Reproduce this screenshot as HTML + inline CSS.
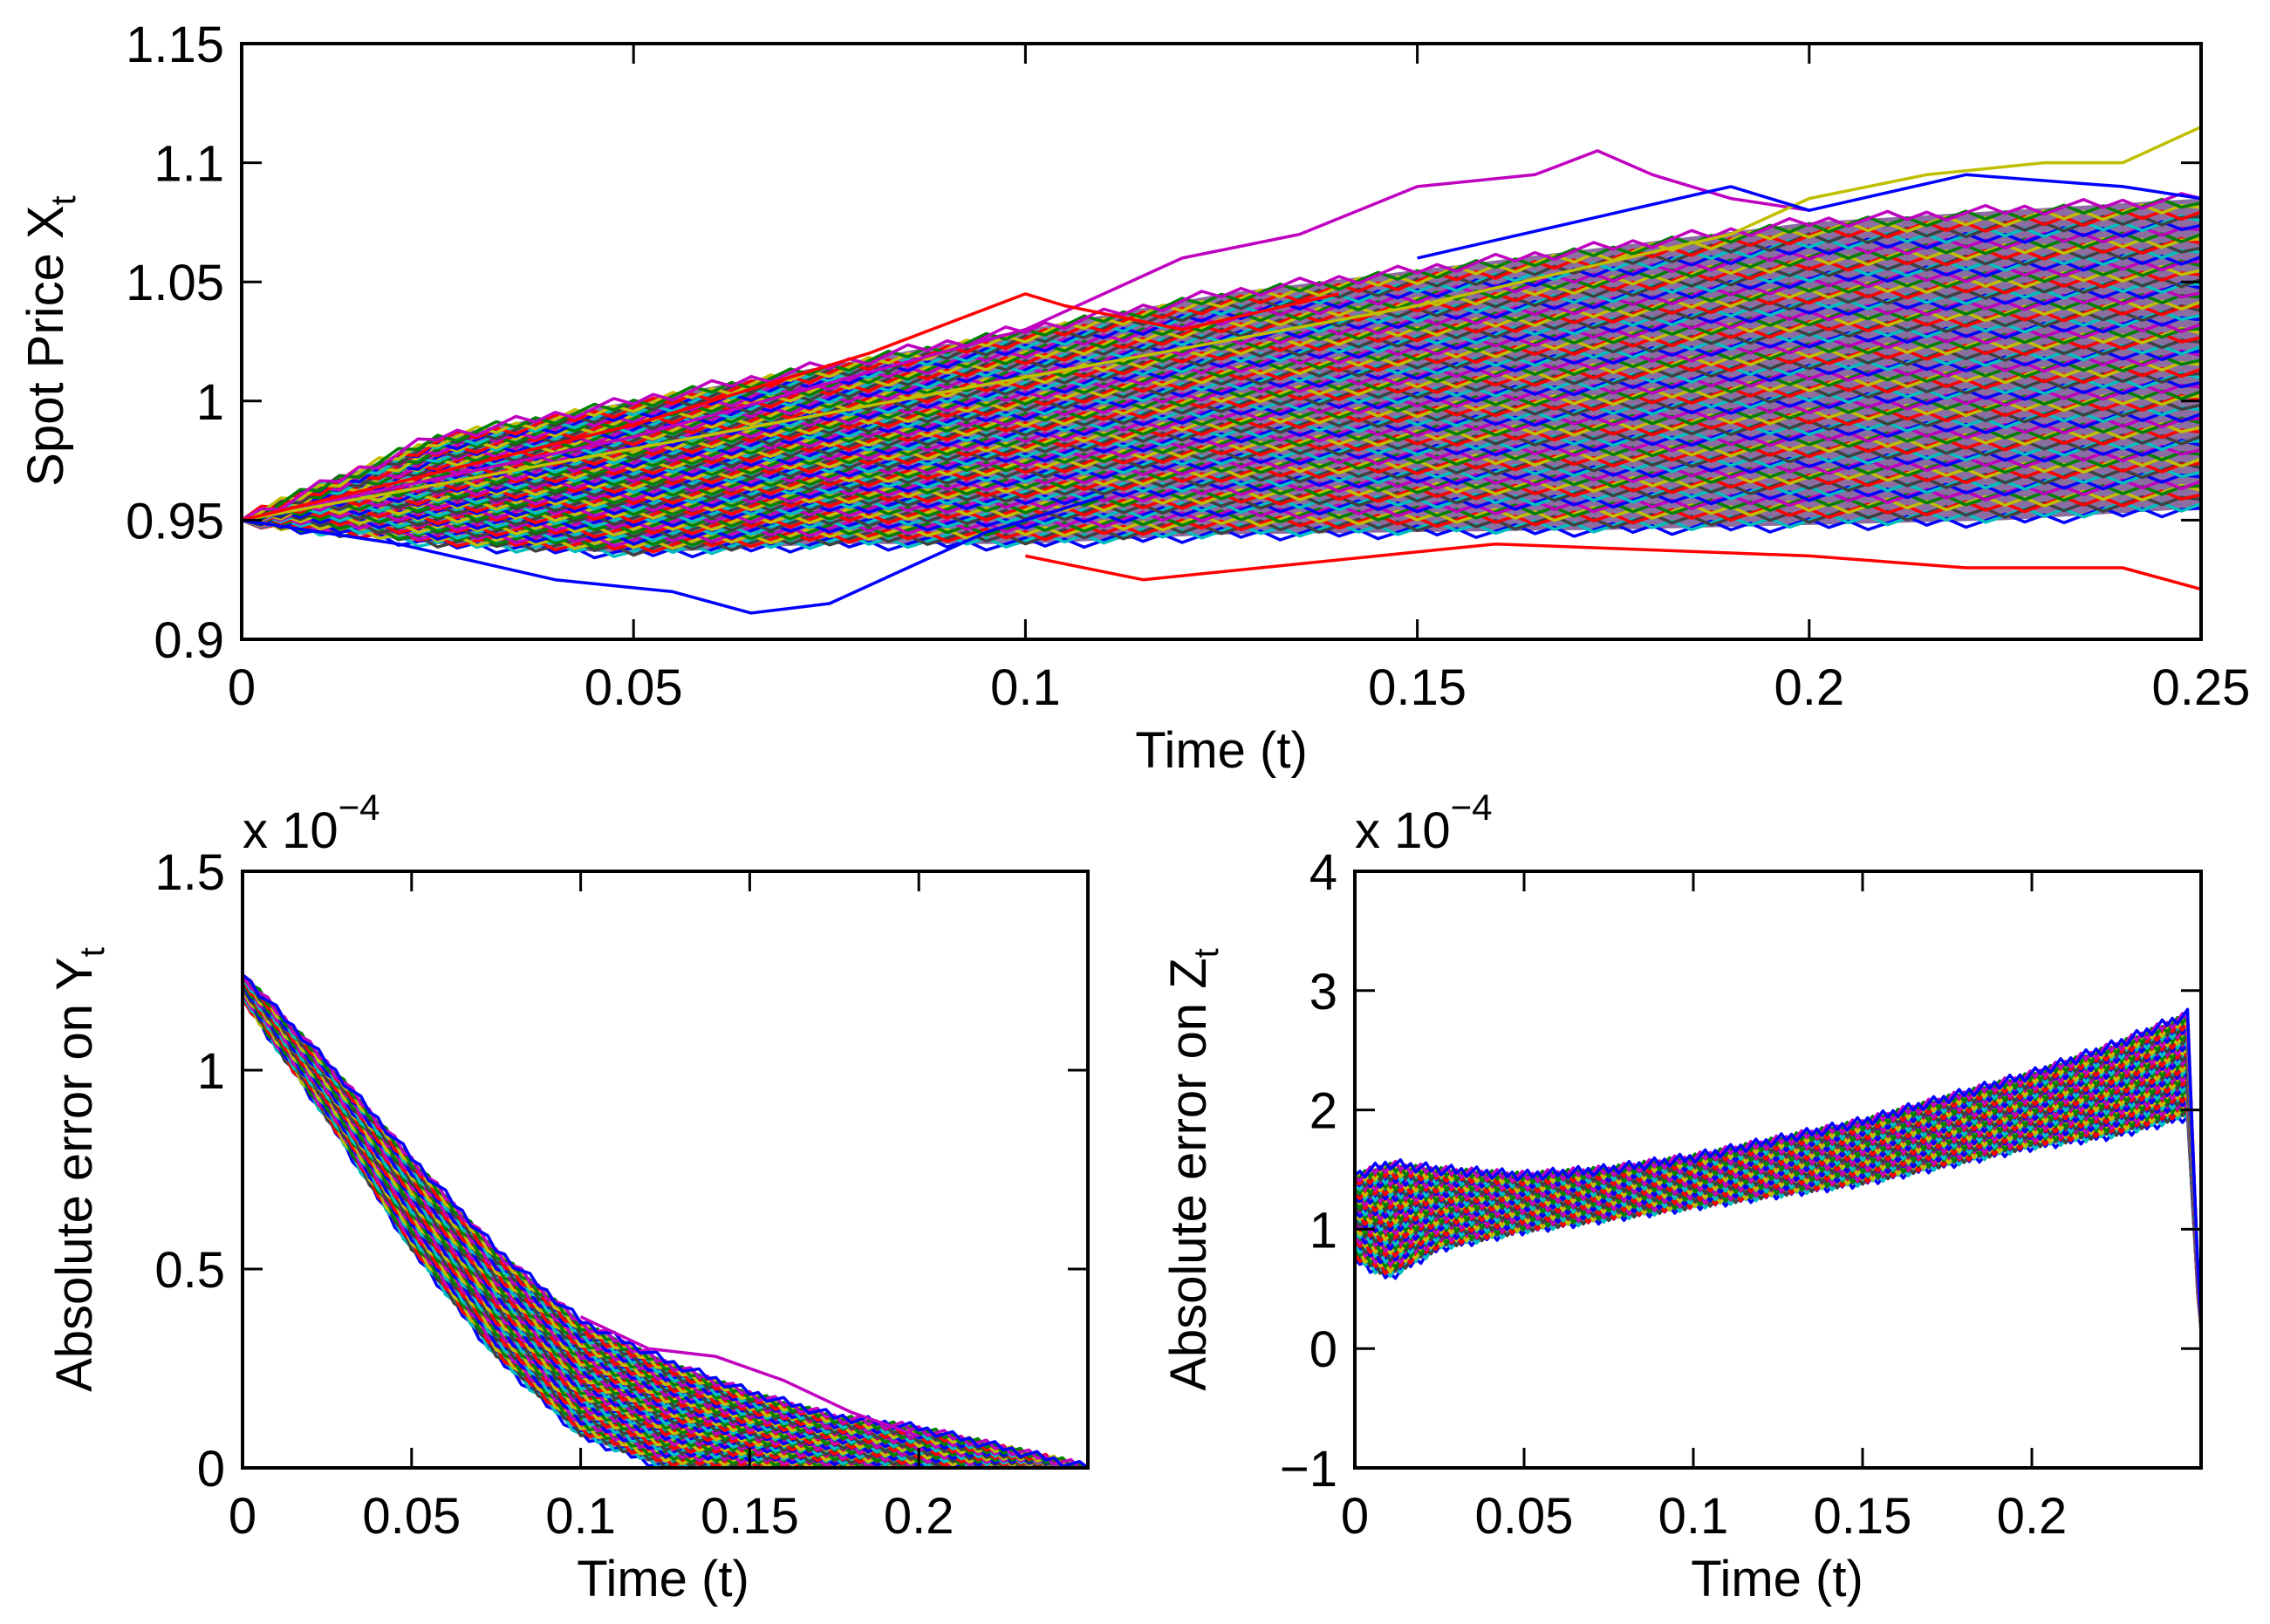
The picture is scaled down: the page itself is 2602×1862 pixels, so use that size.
<!DOCTYPE html>
<html><head><meta charset="utf-8">
<style>
html,body{margin:0;padding:0;background:#fff;}
svg{display:block;font-family:"Liberation Sans",Arial,sans-serif;}
</style></head>
<body>
<svg id="fig" width="2602" height="1862" viewBox="0 0 2602 1862" xmlns="http://www.w3.org/2000/svg">
<rect x="0" y="0" width="2602" height="1862" fill="#fff"/>
</svg>
<script>
// ---------- DATA ----------
const colorCycle = ["#0000ff","#008000","#ff0000","#00bfbf","#bf00bf","#bfbf00","#404040"];

// Top panel: spot price
const topTimes = [0,0.025,0.05,0.075,0.1,0.125,0.15,0.175,0.2,0.225,0.25];
const topBandUpper = [0.95,0.985,1.0,1.015,1.03,1.045,1.055,1.065,1.075,1.08,1.085];
const topBandLower = [0.95,0.94,0.936,0.94,0.94,0.944,0.945,0.946,0.948,0.95,0.955];
const topOutlierMagentaT = [0,0.05,0.1,0.12,0.135,0.15,0.165,0.173,0.18,0.19,0.2];
const topOutlierMagentaV = [0.95,0.985,1.03,1.06,1.07,1.09,1.095,1.105,1.095,1.085,1.08];
const topOutlierYellowT = [0,0.1,0.15,0.19,0.2,0.215,0.23,0.24,0.25];
const topOutlierYellowV = [0.95,1.01,1.04,1.07,1.085,1.095,1.1,1.1,1.115];
const topOutlierBlueLowT = [0,0.02,0.04,0.055,0.065,0.075,0.085,0.095,0.11];
const topOutlierBlueLowV = [0.95,0.94,0.925,0.92,0.911,0.915,0.93,0.945,0.96];
const topOutlierRedLowT = [0.1,0.115,0.13,0.16,0.2,0.22,0.24,0.25];
const topOutlierRedLowV = [0.935,0.925,0.93,0.94,0.935,0.93,0.93,0.921];
const topOutlierRedHighT = [0,0.05,0.08,0.1,0.105,0.12,0.14];
const topOutlierRedHighV = [0.95,0.99,1.02,1.045,1.04,1.03,1.045];
const topOutlierBlueHighT = [0.15,0.17,0.19,0.2,0.22,0.24,0.25];
const topOutlierBlueHighV = [1.06,1.075,1.09,1.08,1.095,1.09,1.085];
const topXTicks = [0,0.05,0.1,0.15,0.2,0.25];
const topXTickLabels = ["0","0.05","0.1","0.15","0.2","0.25"];
const topYTicks = [0.9,0.95,1,1.05,1.1,1.15];
const topYTickLabels = ["0.9","0.95","1","1.05","1.1","1.15"];

// Bottom-left: absolute error on Y (x 1e-4)
const yErrTimes = [0,0.025,0.05,0.075,0.1,0.125,0.15,0.175,0.2,0.225,0.25];
const yErrUpper = [1.24,1.02,0.78,0.55,0.37,0.27,0.19,0.13,0.1,0.05,0];
const yErrLower = [1.18,0.88,0.55,0.28,0.08,0,0,0,0,0,0];
const yErrOutlierT = [0.1,0.12,0.14,0.16,0.18,0.2];
const yErrOutlierV = [0.38,0.3,0.28,0.22,0.14,0.08];
const yErrXTicks = [0,0.05,0.1,0.15,0.2];
const yErrXTickLabels = ["0","0.05","0.1","0.15","0.2"];
const yErrYTicks = [0,0.5,1,1.5];
const yErrYTickLabels = ["0","0.5","1","1.5"];

// Bottom-right: absolute error on Z (x 1e-4)
const zErrTimes = [0,0.01,0.025,0.05,0.075,0.1,0.125,0.15,0.175,0.2,0.225,0.246,0.25];
const zErrUpper = [1.45,1.55,1.5,1.45,1.5,1.6,1.75,1.9,2.1,2.3,2.55,2.8,0.0];
const zErrLower = [0.75,0.6,0.85,1.0,1.1,1.2,1.3,1.4,1.55,1.7,1.8,1.95,0.0];
const zErrXTicks = [0,0.05,0.1,0.15,0.2];
const zErrXTickLabels = ["0","0.05","0.1","0.15","0.2"];
const zErrYTicks = [-1,0,1,2,3,4];
const zErrYTickLabels = ["\u22121","0","1","2","3","4"];

// ---------- DRAWING ----------
const NS = "http://www.w3.org/2000/svg";
const svg = document.getElementById("fig");
function el(tag, attrs, parent){
  const e = document.createElementNS(NS, tag);
  for (const k in attrs) e.setAttribute(k, attrs[k]);
  (parent||svg).appendChild(e);
  return e;
}
function interp(ts, vs, t){
  if (t <= ts[0]) return vs[0];
  for (let i=1;i<ts.length;i++){
    if (t <= ts[i]){ const f=(t-ts[i-1])/(ts[i]-ts[i-1]); return vs[i-1]+f*(vs[i]-vs[i-1]); }
  }
  return vs[vs.length-1];
}
function makeAxes(box, xdom, ydom){
  return {
    x: v => box.l + (v - xdom[0])/(xdom[1]-xdom[0])*(box.r-box.l),
    y: v => box.b - (v - ydom[0])/(ydom[1]-ydom[0])*(box.b-box.t)
  };
}
function drawBand(g, ax, ts, lo, hi, nLines, step, jitter, name){
  let pts = [];
  const t0 = ts[0], t1 = ts[ts.length-1];
  const N = Math.round((t1-t0)/step);
  for (let k=0;k<=N;k++){ const t=t0+k*step; pts.push(ax.x(t)+","+ax.y(interp(ts,hi,t))); }
  for (let k=N;k>=0;k--){ const t=t0+k*step; pts.push(ax.x(t)+","+ax.y(interp(ts,lo,t))); }
  const poly = el("polygon",{points:pts.join(" "),fill:"#5a2f7a","fill-opacity":"0.7"},g);
  
  
  for (let i=0;i<nLines;i++){
    const f = i/(nLines-1);
    let d = "";
    for (let k=0;k<=N;k++){
      const t = t0+k*step;
      const v = interp(ts,lo,t) + f*(interp(ts,hi,t)-interp(ts,lo,t));
      const off = (k===0||k===N) ? 0 : (((i*7 + k*3) % 5) - 2) * jitter;
      d += (k?"L":"M") + ax.x(t).toFixed(1) + "," + (ax.y(v)+off).toFixed(1);
    }
    const p = el("path",{d:d,fill:"none",stroke:colorCycle[(i*3)%colorCycle.length],"stroke-width":3.5,"stroke-linejoin":"round"},g);
    
    
  }
}
function drawPath(g, ax, ts, vs, color, name){
  let d = "";
  ts.forEach((t,i)=>{ d += (i?"L":"M") + ax.x(t).toFixed(1) + "," + ax.y(vs[i]).toFixed(1); });
  const p = el("path",{d:d,fill:"none",stroke:color,"stroke-width":3.5,"stroke-linejoin":"round"},g);
  
  
}
function drawFrame(box, ax, xt, xl, yt, yl, prefix){
  const g = el("g",{});
  
  
  const tl = 23;
  xt.forEach((v,i)=>{
    const x = ax.x(v);
    el("line",{x1:x,y1:box.b,x2:x,y2:box.b-tl,stroke:"#000","stroke-width":3},g);
    el("line",{x1:x,y1:box.t,x2:x,y2:box.t+tl,stroke:"#000","stroke-width":3},g);
    const t = el("text",{x:x,y:box.b+75,"font-size":58,"text-anchor":"middle",fill:"#000"},g);
    t.textContent = xl[i];
    
    
  });
  yt.forEach((v,i)=>{
    const y = ax.y(v);
    el("line",{x1:box.l,y1:y,x2:box.l+tl,y2:y,stroke:"#000","stroke-width":3},g);
    el("line",{x1:box.r,y1:y,x2:box.r-tl,y2:y,stroke:"#000","stroke-width":3},g);
    const t = el("text",{x:box.l-20,y:y+21,"font-size":58,"text-anchor":"end",fill:"#000"},g);
    t.textContent = yl[i];
    
    
  });
  const r = el("rect",{x:box.l,y:box.t,width:box.r-box.l,height:box.b-box.t,fill:"none",stroke:"#000","stroke-width":4},g);
  
  
}
function clip(id, box){
  const cp = el("clipPath",{id:id});
  el("rect",{x:box.l,y:box.t,width:box.r-box.l,height:box.b-box.t},cp);
  return "url(#"+id+")";
}
function label(x, y, rot, html, name){
  const t = el("text",{x:x,y:y,"font-size":58,"text-anchor":"middle",fill:"#000",transform: rot? "rotate(-90 "+x+" "+y+")" : ""});
  t.innerHTML = html;
  
  
}

// --- Top panel ---
const boxTop = {l:277,r:2523,t:50,b:733};
const axTop = makeAxes(boxTop,[0,0.25],[0.9,1.15]);
const gTop = el("g",{"clip-path":clip("cTop",boxTop)});


drawBand(gTop, axTop, topTimes, topBandLower, topBandUpper, 70, 0.0025, 3.5, "spot-price");
drawPath(gTop, axTop, topOutlierMagentaT, topOutlierMagentaV, "#bf00bf", "spot-path-magenta-high");
drawPath(gTop, axTop, topOutlierYellowT, topOutlierYellowV, "#bfbf00", "spot-path-yellow-high");
drawPath(gTop, axTop, topOutlierBlueLowT, topOutlierBlueLowV, "#0000ff", "spot-path-blue-low");
drawPath(gTop, axTop, topOutlierRedLowT, topOutlierRedLowV, "#ff0000", "spot-path-red-low");
drawPath(gTop, axTop, topOutlierRedHighT, topOutlierRedHighV, "#ff0000", "spot-path-red-high");
drawPath(gTop, axTop, topOutlierBlueHighT, topOutlierBlueHighV, "#0000ff", "spot-path-blue-high");
drawFrame(boxTop, axTop, topXTicks, topXTickLabels, topYTicks, topYTickLabels, "top");
label(1400, 880, false, "Time (t)", "top-x-axis-title");
label(72, 391, true, 'Spot Price X<tspan font-size="40" dy="14">t</tspan>', "top-y-axis-title");

// --- Bottom-left panel ---
const boxBL = {l:278,r:1247,t:999,b:1683};
const axBL = makeAxes(boxBL,[0,0.25],[0,1.5]);
const gBL = el("g",{"clip-path":clip("cBL",boxBL)});


drawBand(gBL, axBL, yErrTimes, yErrLower, yErrUpper, 50, 0.0025, 2.5, "y-error");
drawPath(gBL, axBL, yErrOutlierT, yErrOutlierV, "#bf00bf", "y-error-path-magenta");
drawFrame(boxBL, axBL, yErrXTicks, yErrXTickLabels, yErrYTicks, yErrYTickLabels, "bottom-left");
label(760, 1830, false, "Time (t)", "bottom-left-x-axis-title");
label(105, 1341, true, 'Absolute error on Y<tspan font-size="40" dy="14">t</tspan>', "bottom-left-y-axis-title");
(function(){
  const t = el("text",{x:278,y:972,"font-size":58,fill:"#000"});
  t.innerHTML = 'x 10<tspan font-size="42" dy="-32">\u22124</tspan>';
  
  
})();

// --- Bottom-right panel ---
const boxBR = {l:1553,r:2523,t:999,b:1683};
const axBR = makeAxes(boxBR,[0,0.25],[-1,4]);
const gBR = el("g",{"clip-path":clip("cBR",boxBR)});


drawBand(gBR, axBR, zErrTimes, zErrLower, zErrUpper, 50, 0.0015, 3, "z-error");
drawFrame(boxBR, axBR, zErrXTicks, zErrXTickLabels, zErrYTicks, zErrYTickLabels, "bottom-right");
label(2037, 1830, false, "Time (t)", "bottom-right-x-axis-title");
label(1382, 1341, true, 'Absolute error on Z<tspan font-size="40" dy="14">t</tspan>', "bottom-right-y-axis-title");
(function(){
  const t = el("text",{x:1553,y:972,"font-size":58,fill:"#000"});
  t.innerHTML = 'x 10<tspan font-size="42" dy="-32">\u22124</tspan>';
  
  
})();
</script>
</body></html>
